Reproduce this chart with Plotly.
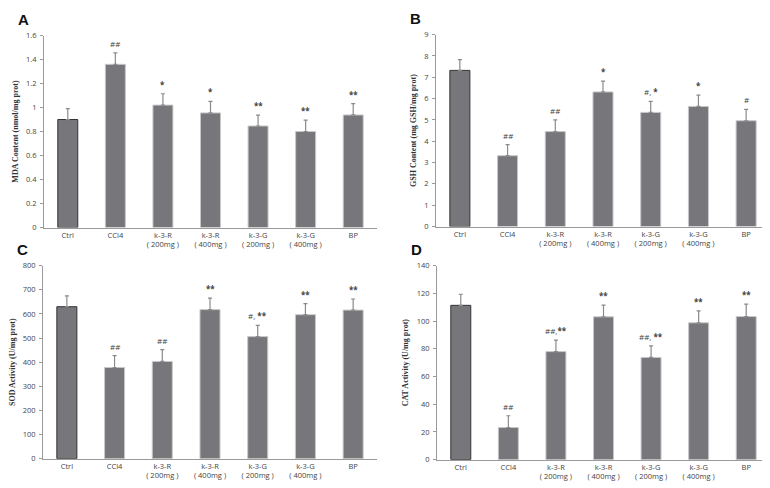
import plotly.graph_objects as go

categories = ["Ctrl", "CCl4", "k-3-R<br>( 200mg )", "k-3-R<br>( 400mg )",
              "k-3-G<br>( 200mg )", "k-3-G<br>( 400mg )", "BP"]

mda_values = [0.90, 1.36, 1.02, 0.955, 0.846, 0.80, 0.938]
mda_errors = [0.09, 0.095, 0.095, 0.097, 0.09, 0.095, 0.095]
mda_marks = ["", "##", "*", "*", "**", "**", "**"]

gsh_values = [7.32, 3.32, 4.45, 6.31, 5.35, 5.63, 4.96]
gsh_errors = [0.50, 0.52, 0.55, 0.51, 0.52, 0.53, 0.53]
gsh_marks = ["", "##", "##", "*", "#, *", "*", "#"]

sod_values = [630, 378, 403, 618, 506, 597, 616]
sod_errors = [45, 49, 49, 48, 47, 46, 46]
sod_marks = ["", "##", "##", "**", "#, **", "**", "**"]

cat_values = [111.4, 23.2, 78.0, 103.1, 73.8, 98.8, 103.3]
cat_errors = [8.0, 8.5, 8.3, 8.5, 8.3, 8.6, 9.0]
cat_marks = ["", "##", "##,**", "**", "##, **", "**", "**"]

panels = [
    dict(letter="A", vals=mda_values, errs=mda_errors, marks=mda_marks,
         title="MDA Content (nmol/mg prot)", yrange=[0, 1.6], dtick=0.2,
         xdom=[36/770, 369/770], ydom=[1-219/488, 1-23/488]),
    dict(letter="B", vals=gsh_values, errs=gsh_errors, marks=gsh_marks,
         title="GSH Content (mg GSH/mg prot)", yrange=[0, 9], dtick=1,
         xdom=[428/770, 762/770], ydom=[1-218/488, 1-22/488]),
    dict(letter="C", vals=sod_values, errs=sod_errors, marks=sod_marks,
         title="SOD Activity (U/mg prot)", yrange=[0, 800], dtick=100,
         xdom=[35/770, 369/770], ydom=[1-455/488, 1-258/488]),
    dict(letter="D", vals=cat_values, errs=cat_errors, marks=cat_marks,
         title="CAT Activity (U/mg prot)", yrange=[0, 140], dtick=20,
         xdom=[429/770, 762/770], ydom=[1-456/488, 1-258/488]),
]

fig = go.Figure()
bar_color = "#77777b"
line_cols = ["#333333"] + ["#c8c8c8"] * 6


def fmt_mark(m):
    return m.replace("*", "<b>*</b>")


for i, p in enumerate(panels):
    n = "" if i == 0 else str(i + 1)
    xa, ya = "x" + n, "y" + n
    fig.add_trace(go.Bar(
        x=categories, y=p["vals"], xaxis=xa, yaxis=ya,
        marker=dict(color=bar_color, line=dict(color=line_cols, width=1)),
        error_y=dict(type="data", array=p["errs"], arrayminus=[0]*7,
                     symmetric=False, color="#8a8a8a", thickness=1.2, width=2),
        showlegend=False, hoverinfo="skip"))
    fig.update_layout(**{
        "xaxis" + n: dict(domain=p["xdom"], anchor=ya, showline=True,
                          linecolor="#9a9a9a", linewidth=1, ticks="",
                          tickfont=dict(family="Open Sans", size=7.5, color="#444"),
                          showgrid=False, fixedrange=True),
        "yaxis" + n: dict(domain=p["ydom"], anchor=xa, range=p["yrange"],
                          dtick=p["dtick"], showline=True, linecolor="#9a9a9a",
                          linewidth=1, ticks="outside", ticklen=3, tickcolor="#9a9a9a",
                          showgrid=False, zeroline=False, ticklabelstandoff=2,
                          tickfont=dict(family="Open Sans", size=7.5, color="#444"),
                          title=dict(text="<b>" + p["title"] + "</b>",
                                     font=dict(family="Liberation Serif", size=8, color="#333"),
                                     standoff=6)),
    })
    for c, v, e, m in zip(categories, p["vals"], p["errs"], p["marks"]):
        if m:
            fig.add_annotation(x=c, y=v + e, xref=xa, yref=ya, text=fmt_mark(m),
                               showarrow=False, yanchor="bottom", yshift=2,
                               font=dict(family="Open Sans", size=8, color="#444"))
    fig.add_annotation(x=p["xdom"][0] - 28/770, y=p["ydom"][1] + 6/488,
                       xref="paper", yref="paper", text="<b>" + p["letter"] + "</b>",
                       showarrow=False, xanchor="left", yanchor="bottom",
                       font=dict(family="Liberation Sans", size=15, color="#111"))

fig.update_layout(width=770, height=488, margin=dict(l=0, r=0, t=0, b=0),
                  plot_bgcolor="white", paper_bgcolor="white",
                  bargap=0.58)

fig.write_html("out.html")
